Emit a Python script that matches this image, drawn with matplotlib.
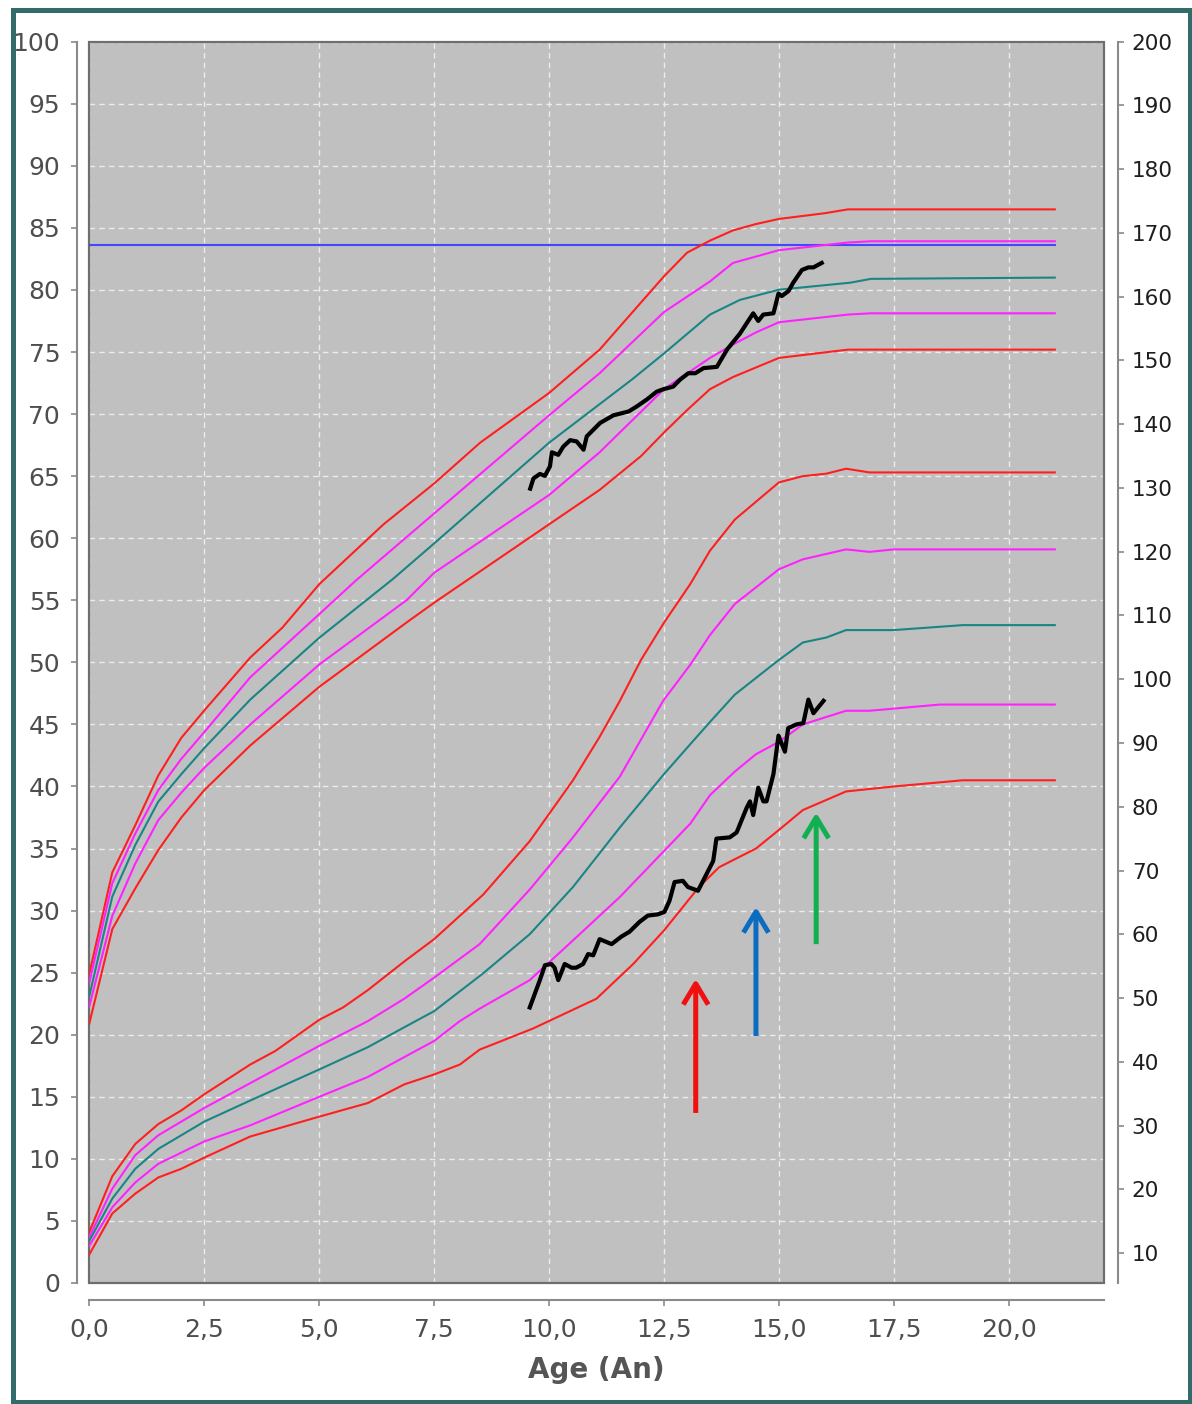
import matplotlib
matplotlib.use("Agg")
import matplotlib.pyplot as plt
from matplotlib.patches import Rectangle
from matplotlib.ticker import FuncFormatter, MultipleLocator

# ---------------- data ----------------
# Height reference curves (cm, right axis)
h_age_p97 = [0, 0.5, 1, 1.5, 2, 2.5, 3.5, 4.2, 5, 6.4, 7.5, 8.5, 10, 11.1, 12, 12.5, 13, 13.5, 14, 14.5, 15, 16, 16.5, 21]
h_p97 = [53.8, 69.7, 77.1, 84.9, 90.8, 95.1, 103.4, 108.1, 114.9, 124.3, 130.7, 137.1, 144.9, 151.7, 159.1, 163.2, 166.9, 168.8, 170.4, 171.4, 172.2, 173.1, 173.7, 173.7]
h_age_p85 = [0, 0.5, 1, 1.5, 2, 2.5, 3.5, 5, 5.8, 7.5, 10, 11.1, 12.5, 13.5, 14, 14.5, 15, 16.5, 17, 21]
h_p85 = [52.4, 68.0, 75.8, 82.6, 87.5, 91.7, 100.3, 110.2, 115.5, 126.0, 141.4, 148.0, 157.6, 162.4, 165.3, 166.3, 167.3, 168.5, 168.7, 168.7]
h_age_p50 = [0, 0.5, 1, 1.5, 2, 2.5, 3.5, 5, 6.6, 7.5, 10, 11.8, 12.5, 13.5, 14.15, 15, 16.55, 17, 21]
h_p50 = [50.3, 65.9, 74.0, 80.8, 85.1, 89.2, 96.8, 106.5, 115.7, 121.3, 137.1, 147.0, 151.1, 157.2, 159.5, 161.1, 162.2, 162.8, 163.0]
h_age_p15 = [0, 0.5, 1, 1.5, 2, 2.5, 3.5, 5, 6.9, 7.5, 10, 11.1, 12.5, 13.5, 14, 14.5, 15, 16.5, 17, 21]
h_p15 = [48.7, 62.9, 71.1, 77.9, 82.2, 86.1, 92.9, 102.3, 112.4, 116.7, 128.9, 135.6, 145.5, 150.4, 152.5, 154.4, 156.0, 157.2, 157.4, 157.4]
h_age_p3 = [0, 0.5, 1, 1.5, 2, 2.5, 3.5, 5, 6.9, 7.5, 10, 11.1, 12, 12.5, 13, 13.5, 14, 15, 16.5, 21]
h_p3 = [46.0, 60.8, 67.2, 73.2, 78.3, 82.6, 89.6, 98.8, 108.9, 112.0, 124.3, 129.7, 135.0, 138.7, 142.2, 145.5, 147.4, 150.4, 151.7, 151.7]

target_height = 168.1
target_age = [0, 21]

# Weight reference curves (kg, left axis)
w_age_p97 = [0, 0.5, 1, 1.5, 2, 2.5, 3.5, 4.05, 5, 5.52, 6.06, 6.85, 7.5, 8.57, 9.58, 10.52, 11.1, 11.54, 12, 12.5, 13.07, 13.5, 14.04, 15, 15.52, 16.03, 16.46, 16.97, 21]
w_p97 = [4.1, 8.6, 11.2, 12.8, 13.9, 15.2, 17.6, 18.7, 21.2, 22.2, 23.6, 25.9, 27.7, 31.3, 35.6, 40.5, 44.0, 46.9, 50.2, 53.2, 56.3, 59.0, 61.5, 64.5, 65.0, 65.2, 65.6, 65.3, 65.3]
w_age_p85 = [0, 0.5, 1, 1.5, 2, 2.5, 3.5, 5, 6.06, 6.85, 7.5, 8.49, 9.58, 10.52, 11.54, 12.48, 13.07, 13.5, 14.04, 15, 15.52, 16.46, 16.97, 17.5, 21]
w_p85 = [3.7, 7.6, 10.3, 11.9, 13.0, 14.1, 16.1, 19.1, 21.1, 22.9, 24.6, 27.3, 31.7, 35.9, 40.8, 46.9, 49.8, 52.2, 54.7, 57.5, 58.3, 59.1, 58.9, 59.1, 59.1]
w_age_p50 = [0, 0.5, 1, 1.5, 2, 2.5, 3.5, 5, 6.06, 6.85, 7.5, 8.55, 9.58, 10.52, 11.54, 12.5, 13.07, 13.5, 14.04, 15, 15.52, 16.03, 16.46, 17.5, 19.0, 21]
w_p50 = [3.4, 6.8, 9.2, 10.8, 11.9, 13.0, 14.7, 17.2, 19.0, 20.6, 21.9, 24.9, 28.1, 31.9, 36.7, 41.0, 43.4, 45.2, 47.4, 50.2, 51.6, 52.0, 52.6, 52.6, 53.0, 53.0]
w_age_p15 = [0, 0.5, 1, 1.5, 2, 2.5, 3.5, 5, 6.06, 6.85, 7.5, 8.06, 8.49, 9.58, 10.52, 11.54, 12.5, 13.07, 13.5, 14.04, 14.5, 15, 15.52, 16.46, 16.97, 18.5, 21]
w_p15 = [3.0, 6.1, 8.1, 9.6, 10.5, 11.4, 12.7, 15.0, 16.6, 18.2, 19.5, 21.1, 22.1, 24.4, 27.6, 31.1, 34.8, 37.0, 39.3, 41.2, 42.6, 43.6, 45.0, 46.1, 46.1, 46.6, 46.6]
w_age_p3 = [0, 0.5, 1, 1.5, 2, 2.5, 3.5, 5, 6.06, 6.85, 7.5, 8.06, 8.49, 9.65, 11.03, 11.83, 12.5, 13.26, 13.7, 14.5, 15, 15.52, 16.46, 17.5, 19.0, 21]
w_p3 = [2.3, 5.6, 7.2, 8.5, 9.2, 10.1, 11.8, 13.4, 14.5, 16.0, 16.8, 17.6, 18.8, 20.5, 22.9, 25.7, 28.4, 31.9, 33.5, 35.0, 36.5, 38.1, 39.6, 40.0, 40.5, 40.5]

# Patient measurements
pat_h_age = [9.59, 9.66, 9.80, 9.91, 10.02, 10.06, 10.2, 10.31, 10.46, 10.60, 10.75, 10.82, 11.11, 11.40, 11.73, 11.91, 12.13, 12.34, 12.49, 12.70, 12.85, 13.03, 13.18, 13.36, 13.65, 13.87, 14.15, 14.44, 14.55, 14.66, 14.88, 14.99, 15.06, 15.21, 15.31, 15.50, 15.64, 15.75, 15.93]
pat_h = [129.9, 131.5, 132.2, 131.9, 133.4, 135.6, 135.2, 136.5, 137.5, 137.3, 136.0, 138.1, 140.2, 141.4, 142.0, 142.8, 143.9, 145.1, 145.5, 145.9, 147.0, 148.0, 148.0, 148.8, 149.0, 151.7, 154.2, 157.4, 156.2, 157.2, 157.4, 160.5, 160.1, 160.9, 162.2, 164.2, 164.6, 164.6, 165.3]
pat_w_age = [9.58, 9.69, 9.80, 9.91, 10.05, 10.12, 10.20, 10.34, 10.49, 10.59, 10.74, 10.85, 10.96, 11.10, 11.36, 11.57, 11.75, 11.97, 12.15, 12.37, 12.51, 12.62, 12.73, 12.91, 13.02, 13.24, 13.46, 13.57, 13.64, 13.93, 14.08, 14.30, 14.37, 14.44, 14.55, 14.66, 14.73, 14.88, 14.99, 15.13, 15.20, 15.38, 15.53, 15.64, 15.75, 15.97]
pat_w = [22.2, 23.3, 24.4, 25.6, 25.7, 25.4, 24.4, 25.7, 25.4, 25.4, 25.7, 26.5, 26.4, 27.7, 27.3, 27.9, 28.3, 29.1, 29.6, 29.7, 29.9, 30.8, 32.3, 32.4, 31.9, 31.6, 33.2, 34.0, 35.8, 35.9, 36.3, 38.3, 38.8, 37.7, 39.9, 38.8, 38.8, 41.0, 44.1, 42.8, 44.7, 45.0, 45.1, 47.0, 45.9, 46.9]

# Annotation arrows (age, base kg, tip kg)
arrow_x = [13.19, 14.50, 15.81]
arrow_base = [13.7, 19.9, 27.3]
arrow_tip = [24.5, 30.3, 37.9]
arrow_colors = ["#f01010", "#0c6cc0", "#10b050"]

x_ticks = [0, 2.5, 5, 7.5, 10, 12.5, 15, 17.5, 20]

# ---------------- figure ----------------
W, H = 1192, 1404
fig = plt.figure(figsize=(W / 100, H / 100), dpi=100)
fig.patch.set_facecolor("white")

# outer teal frame
fig.patches.append(Rectangle((12.5 / W, 2.5 / H), (1189.5 - 12.5) / W, (1394.5 - 2.5) / H,
                             transform=fig.transFigure, fill=False,
                             edgecolor="#336a6a", linewidth=3.6, zorder=0))

L, R, T, B = 89.3, 1104.0, 41.7, 1283.0
ax = fig.add_axes([L / W, (H - B) / H, (R - L) / W, (B - T) / H])
ax.set_facecolor("#c0c0c0")
ax.set_xlim(0, 22.07)
ax.set_ylim(0, 100)

ax2 = ax.twinx()
ax2.set_ylim(5.3, 200)

# grid
ax.set_axisbelow(True)
ax.set_xticks(x_ticks)
ax.yaxis.set_major_locator(MultipleLocator(5))
ax.grid(True, color="#ececec", linestyle=(0, (4, 3)), linewidth=1.0)

# plot frame
ax.add_patch(Rectangle((0, 0), 1, 1, transform=ax.transAxes, fill=False,
                       edgecolor="#6e6e6e", linewidth=1.6, zorder=5, clip_on=False))

# spines
for s in ["top", "right"]:
    ax.spines[s].set_visible(False)
for s in ["top", "left", "bottom"]:
    ax2.spines[s].set_visible(False)
spine_col = "#8a8a8a"
ax.spines["left"].set_position(("outward", 9))
ax.spines["bottom"].set_position(("outward", 12))
ax.spines["left"].set_color(spine_col)
ax.spines["bottom"].set_color(spine_col)
ax.spines["left"].set_linewidth(1.5)
ax.spines["bottom"].set_linewidth(1.5)
ax2.spines["right"].set_position(("outward", 10))
ax2.spines["right"].set_color(spine_col)
ax2.spines["right"].set_linewidth(1.5)

ax.tick_params(axis="y", direction="out", length=4, width=1.2, color=spine_col,
               labelsize=18, labelcolor="#4e4e4e", pad=8)
ax.tick_params(axis="x", direction="out", length=4, width=1.2, color=spine_col,
               labelsize=18, labelcolor="#4e4e4e", pad=9)
ax2.set_yticks(list(range(10, 201, 10)))
ax2.tick_params(axis="y", direction="out", length=4, width=1.2, color=spine_col,
                labelsize=15.5, labelcolor="#1e1e1e", pad=6)

ax.xaxis.set_major_formatter(FuncFormatter(lambda v, p: f"{v:.1f}".replace(".", ",")))
ax.set_xlabel("Age (An)", fontsize=20, fontweight="bold", color="#555555", labelpad=10)

RED, MAG, TEAL = "#ff1f1f", "#ff22ff", "#1a8585"
lw = 1.5

# height curves (right axis)
ax2.plot(target_age, [target_height, target_height], color="#4646ff", lw=1.5, zorder=2)
ax2.plot(h_age_p97, h_p97, color=RED, lw=lw)
ax2.plot(h_age_p85, h_p85, color=MAG, lw=lw)
ax2.plot(h_age_p50, h_p50, color=TEAL, lw=lw)
ax2.plot(h_age_p15, h_p15, color=MAG, lw=lw)
ax2.plot(h_age_p3, h_p3, color=RED, lw=lw)
ax2.plot(pat_h_age, pat_h, color="black", lw=3.0, zorder=4, solid_joinstyle="round")

# weight curves (left axis scale, drawn on top axes layer)
ax2.plot(w_age_p97, w_p97, color=RED, lw=lw, transform=ax.transData)
ax2.plot(w_age_p85, w_p85, color=MAG, lw=lw, transform=ax.transData)
ax2.plot(w_age_p50, w_p50, color=TEAL, lw=lw, transform=ax.transData)
ax2.plot(w_age_p15, w_p15, color=MAG, lw=lw, transform=ax.transData)
ax2.plot(w_age_p3, w_p3, color=RED, lw=lw, transform=ax.transData)
ax2.plot(pat_w_age, pat_w, color="black", lw=3.0, zorder=4, solid_joinstyle="round",
         transform=ax.transData)

for xa, yb, yt, c in zip(arrow_x, arrow_base, arrow_tip, arrow_colors):
    ax2.annotate("", xy=(xa, yt), xytext=(xa, yb),
                 xycoords=ax.transData, textcoords=ax.transData,
                 arrowprops=dict(arrowstyle="->,head_length=0.75,head_width=0.45",
                                 color=c, lw=3.6, mutation_scale=20,
                                 shrinkA=0, shrinkB=0, capstyle="butt"),
                 zorder=6)

fig.savefig("out.png", dpi=100, facecolor="white")
